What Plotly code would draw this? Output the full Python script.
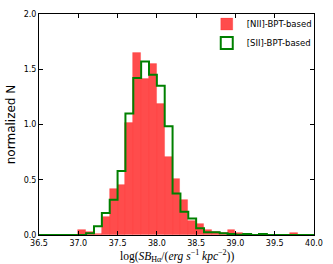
import numpy as np
import plotly.graph_objects as go

# Histogram bins: 36.5 .. 40.0, width 0.1
bin_start = 36.5
bin_stop = 40.0
bin_width = 0.1

# [NII]-BPT-based (filled red), one value per bin starting at 36.5
nii_values = [0, 0, 0, 0, 0,
              0.045, 0.03, 0.01, 0.16, 0.42,
              0.45, 1.01, 1.65, 1.41, 1.55,
              1.19, 0.71, 0.51, 0.32, 0.13,
              0.10, 0.045, 0.03, 0.015, 0.045,
              0.015, 0.005, 0, 0, 0,
              0, 0, 0.015, 0, 0]

# [SII]-BPT-based (green step outline)
sii_values = [0, 0, 0, 0, 0,
              0, 0.015, 0.08, 0.20, 0.32,
              0.58, 1.10, 1.42, 1.57, 1.45,
              1.35, 0.985, 0.375, 0.21, 0.15,
              0.06, 0.025, 0.025, 0.015, 0.01,
              0.003, 0.01, 0, 0.01, 0,
              0, 0, 0, 0, 0]

x_ticks = [36.5, 37.0, 37.5, 38.0, 38.5, 39.0, 39.5, 40.0]
y_ticks = [0.0, 0.5, 1.0, 1.5, 2.0]

n_bins = len(nii_values)
edges = bin_start + bin_width * np.arange(n_bins + 1)
centers = edges[:-1] + bin_width / 2

red = "rgba(255,0,0,0.7)"
green = "#008000"

fig = go.Figure()
fig.add_trace(go.Bar(
    x=centers, y=nii_values, width=bin_width,
    marker=dict(color=red, line=dict(color="rgba(255,0,0,0.25)", width=0.8)),
    name="[NII]-BPT-based", showlegend=True,
))
step_y = list(sii_values) + [sii_values[-1]]
fig.add_trace(go.Scatter(
    x=edges, y=step_y, mode="lines", line_shape="hv",
    line=dict(color=green, width=2), showlegend=False, hoverinfo="skip",
))
# legend proxy: open green box
fig.add_trace(go.Bar(
    x=[None], y=[None], name="[SII]-BPT-based",
    marker=dict(color="white", line=dict(color=green, width=2)),
))

axis_common = dict(
    showgrid=False, zeroline=False, showline=True, linecolor="black",
    linewidth=1, mirror="ticks", ticks="inside", ticklen=4, tickwidth=0.8,
    tickcolor="black", tickfont=dict(family="DejaVu Sans", size=8, color="black"),
)

fig.update_layout(
    width=333, height=264,
    margin=dict(l=35, r=10, t=10, b=29),
    paper_bgcolor="white", plot_bgcolor="white",
    barmode="overlay", bargap=0,
    xaxis=dict(range=[bin_start, bin_stop], tickvals=x_ticks,
               ticktext=[f"{v:.1f}" for v in x_ticks], **axis_common),
    yaxis=dict(range=[0, 2.0], tickvals=y_ticks,
               ticktext=[f"{v:.1f}" for v in y_ticks], **axis_common,
               title=dict(text="normalized N",
                          font=dict(family="DejaVu Sans", size=12, color="black"), standoff=5)),
    legend=dict(x=1.01, y=1.02, xanchor="right", yanchor="top",
                bgcolor="rgba(0,0,0,0)", borderwidth=0,
                font=dict(family="DejaVu Sans", size=8.5, color="black"),
                tracegroupgap=0, itemwidth=30),
    font=dict(family="DejaVu Sans"),
    annotations=[dict(
        text="log(<i>SB</i><sub>Hα</sub>/(<i>erg s</i><sup>−1</sup> <i>kpc</i><sup>−2</sup>))",
        xref="paper", yref="paper", x=0.5, y=0, xanchor="center", yanchor="top",
        yshift=-11, showarrow=False,
        font=dict(family="Liberation Serif", size=11.5, color="black"),
    )],
)

fig.write_html("out.html", config={"displayModeBar": False},
               post_script="document.body.style.margin='0';document.body.style.padding='0';")
